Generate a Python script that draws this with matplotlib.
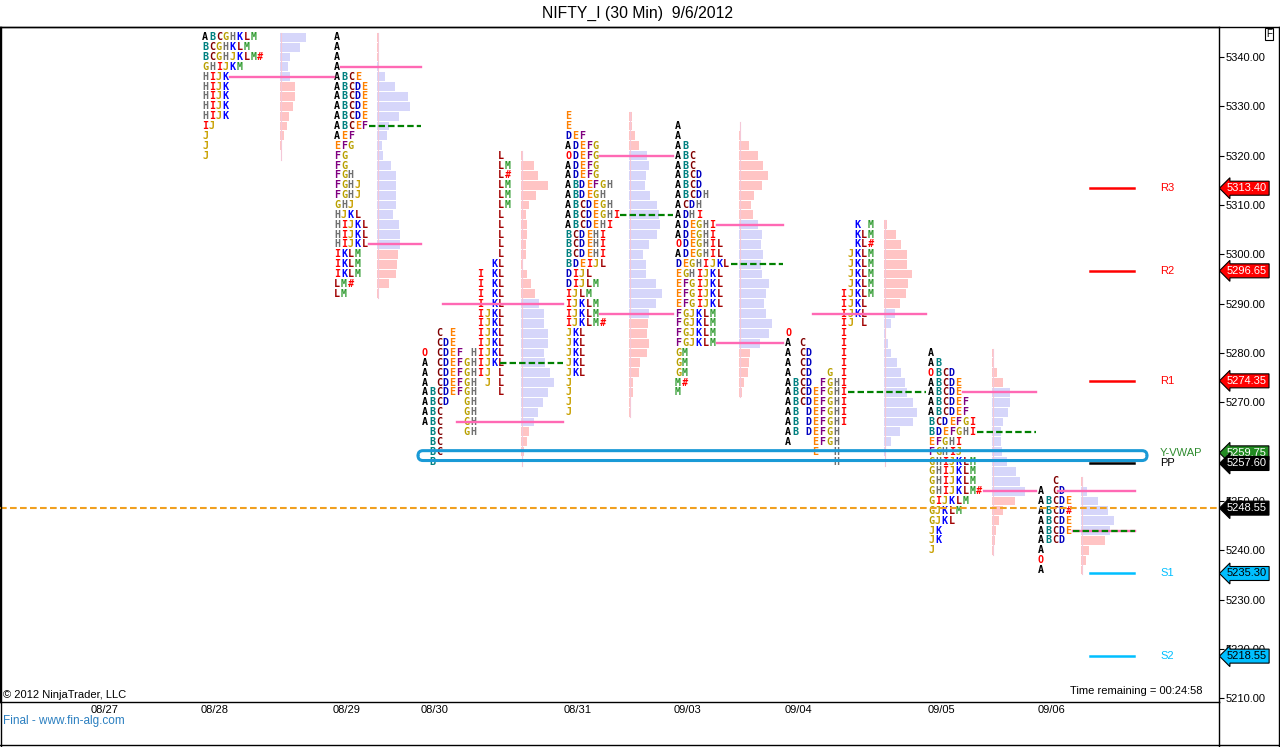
import matplotlib.pyplot as plt
from matplotlib.lines import Line2D
from matplotlib.patches import FancyBboxPatch

W, H = 1280, 747  # output size in pixels

title = "NIFTY_I (30 Min)  9/6/2012"
dates = ["08/27", "08/28", "08/29", "08/30", "08/31", "09/03", "09/04", "09/05", "09/06"]

# TPO rows of each session, top row first, one row every 2 points
tpo_0828 = ["ABCGHKLM", "BCGHKLM", "BCGHJKLM#", "GHIJKM", "HIJK", "HIJK", "HIJK",
            "HIJK", "HIJK", "IJ", "J", "J", "J"]
tpo_0829 = ["A", "A", "A", "A", "ABCE", "ABCDE", "ABCDE", "ABCDE", "ABCDE", "ABCEF",
            "AEF", "EFG", "FG", "FG", "FGH", "FGHJ", "FGHJ", "GHJ", "HJKL", "HIJKL",
            "HIJKL", "HIJKL", "IKLM", "IKLM", "IKLM", "LM#", "LM"]
tpo_0830 = ["           L", "           LM", "           L#", "           LM",
            "           LM", "           LM", "           L", "           L",
            "           L", "           L", "           L", "          KL",
            "        I KL", "        I KL", "        I KL", "        I KL",
            "        IJKL", "        IJKL", "  C E   IJKL", "  CDE   IJKL",
            "O CDEF HIJKL", "A CDEFGHIJKL", "A CDEFGHIJ L", "A CDEFGH J L",
            "ABCDEFGH   L", "ABCD  GH", "ABC   GH", "ABC   GH", " BC   GH",
            " BC", " BC", " B"]
tpo_0831 = ["E", "E", "DEF", "ADEFG", "ODEFG", "ADEFG", "ADEFG", "ABDEFGH", "ABDEGH",
            "ABCDEGH", "ABCDEGHI", "ABCDEHI", "BCDEHI", "BCDEHI", "BCDEHI", "BDEIJL",
            "DIJL", "DIJLM", "IJLM", "IJKLM", "IJKLM", "IJKLM#", "JKL", "JKL", "JKL",
            "JKL", "JKL", "J", "J", "J", "J"]
tpo_0903 = ["A", "A", "AB", "ABC", "ABC", "ABCD", "ABCD", "ABCDH", "ACDH", "ADHI",
            "ADEGHI", "ADEGHI", "ODEGHIL", "ADEGHIL", "DEGHIJKL", "EGHIJKL", "EFGIJKL",
            "EFGIJKL", "EFGIJKL", "FGJKLM", "FGJKLM", "FGJKLM", "FGJKLM", "GM", "GM",
            "GM", "M#", "M"]
tpo_0904 = ["          K M", "          KLM", "          KL#", "         JKLM",
            "         JKLM", "         JKLM", "         JKLM", "        IJKLM",
            "        IJKL", "        IJKL", "        IJ L", "O       I",
            "A C     I", "A CD    I", "A CD    I", "A CD  G I", "ABCD FGHI",
            "ABCDEFGHI", "ABCDEFGHI", "AB DEFGHI", "AB DEFGHI", "AB DEFGH",
            "A   EFGH", "    E  H", "       H"]
tpo_0905 = ["A", "AB", "OBCD", "ABCDE", "ABCDE", "ABCDEF", "ABCDEF", "BCDEFGI",
            "BDEFGHI", "EFGHI", "FGHIJ", "GHIJKLM", "GHIJKLM", "GHIJKLM",
            "GHIJKLM#", "GIJKLM", "GJKLM", "GJKL", "JK", "JK", "J"]
tpo_0906 = ["  C", "A CD", "ABCDE", "ABCD#", "ABCDE", "ABCDE", "ABCD", "A", "O", "A"]

# volume histogram per row (same order as the TPO rows)
vol_0828 = [26, 20, 10, 8, 10, 15, 15, 13, 9, 7, 4, 1, 0]
vol_0829 = [1, 1, 2, 2, 8, 18, 31, 33, 22, 12, 10, 5, 6, 14, 19, 19, 19, 19, 16, 22,
            23, 23, 21, 20, 19, 12, 2]
vol_0830 = [1, 13, 17, 27, 15, 8, 5, 6, 6, 5, 5, 2, 6, 10, 14, 18, 23, 23, 27, 27,
            23, 24, 29, 33, 27, 22, 17, 13, 8, 6, 3, 0]
vol_0831 = [3, 3, 6, 10, 18, 20, 17, 16, 21, 28, 30, 31, 28, 20, 14, 17, 17, 27, 33,
            27, 20, 19, 18, 20, 18, 11, 10, 4, 4, 2, 1]
vol_0903 = [0, 2, 10, 19, 24, 29, 23, 15, 12, 14, 19, 23, 22, 24, 22, 23, 30, 27, 25,
            27, 33, 30, 21, 11, 10, 9, 5, 3]
vol_0904 = [3, 12, 17, 23, 23, 28, 24, 22, 16, 11, 7, 2, 4, 7, 13, 17, 21, 23, 29, 33,
            29, 16, 7, 2, 0]
vol_0905 = [1, 1, 5, 11, 18, 18, 16, 11, 9, 9, 10, 15, 24, 28, 33, 23, 11, 7, 4, 3, 1]
vol_0906 = [1, 6, 17, 27, 33, 29, 24, 8, 5, 2]

# (date, top row price, value area high, value area low)
sessions = [
    ("08/28", 5344, 5344, 5336),
    ("08/29", 5344, 5338, 5302),
    ("08/30", 5320, 5290, 5266),
    ("08/31", 5328, 5320, 5288),
    ("09/03", 5326, 5306, 5282),
    ("09/04", 5306, 5288, 5258),
    ("09/05", 5280, 5272, 5252),
    ("09/06", 5254, 5252, 5244),
]
tpo_rows = [tpo_0828, tpo_0829, tpo_0830, tpo_0831, tpo_0903, tpo_0904, tpo_0905, tpo_0906]
volumes = [vol_0828, vol_0829, vol_0830, vol_0831, vol_0903, vol_0904, vol_0905, vol_0906]

# volume POC levels (pink) and TPO POC levels (green dashed)
vpoc_levels = [5336, 5338, 5302, 5290, 5266, 5320, 5288, 5306, 5282, 5288, 5272, 5252,
               5252, 5244]
tpoc_levels = [5326, 5278, 5308, 5298, 5272, 5264, 5244]

pivot_names = ["R3", "R2", "R1", "Y-VWAP", "PP", "S1", "S2"]
pivot_values = [5313.40, 5296.65, 5274.35, 5259.75, 5257.60, 5235.30, 5218.55]
last_price = 5248.55
time_left = "00:24:58"

# ---- layout (x axis runs in screen pixels) ----
date_x = [105, 215, 347, 435, 578, 688, 798, 941, 1051]
letter_x = [202, 334, 422, 565, 675, 785, 928, 1038]
bar_x = [280, 377, 521, 629, 739, 884, 992, 1081]
vpoc_x = [(230, 334), (341, 421), (369, 421), (443, 563), (457, 563), (600, 673),
          (600, 673), (717, 783), (717, 783), (813, 926), (963, 1036), (984, 1036),
          (1058, 1135), (1073, 1135)]
tpoc_x = [(369, 421), (500, 563), (620, 673), (731, 783), (848, 926), (977, 1036),
          (1073, 1135)]
pitch = 6.9

letter_colors = {
    "A": "#000000", "B": "#008080", "C": "#800000", "D": "#0000c0", "E": "#ff8000",
    "F": "#800080", "G": "#b8a000", "H": "#707070", "I": "#ff0000", "J": "#c8a000",
    "K": "#0000ff", "L": "#a00000", "M": "#2e9a2e", "O": "#ff0000", "#": "#ff0000",
}
pivot_colors = ["#ff0000", "#ff0000", "#ff0000", "#2e8b2e", "#000000", "#00bfff", "#00bfff"]
tag_face = ["#ff0000", "#ff0000", "#ff0000", "#228b22", "#000000", "#00bfff", "#00bfff"]
tag_text = ["white", "white", "white", "white", "white", "black", "black"]

plt.rcParams['font.family'] = ['Liberation Sans', 'DejaVu Sans']

fig = plt.figure(figsize=(W / 100, H / 100), dpi=100)
top_px, bottom_px, right_px = 27, 702, 1219
ax = fig.add_axes([0, 1 - bottom_px / H, right_px / W, (bottom_px - top_px) / H])
ax.set_xlim(0, right_px)
ax.set_ylim(5209.25, 5346.08)

for s, (day, top, va_hi, va_lo) in enumerate(sessions):
    rows = tpo_rows[s]
    prices = [top - 2 * i for i in range(len(rows))]
    for price, row in zip(prices, rows):
        for col, ch in enumerate(row):
            if ch == " ":
                continue
            ax.text(letter_x[s] + col * pitch, price, ch, color=letter_colors[ch],
                    family="DejaVu Sans Mono", weight="bold", fontsize=7.2,
                    ha="left", va="center", zorder=3)
    cols = ["#d6d6fa" if va_lo <= p <= va_hi else "#ffc4c4" for p in prices]
    ax.barh(prices, volumes[s], left=bar_x[s], height=1.8, color=cols, zorder=2)
    # thin left edge of the histogram
    ax.plot([bar_x[s] + 0.5] * 2, [prices[-1] - 0.9, prices[0] + 0.9],
            color="#f4c8d8", lw=0.8, zorder=2)

for lvl, (x0, x1) in zip(vpoc_levels, vpoc_x):
    ax.plot([x0, x1], [lvl, lvl], color="#ff69b4", lw=1.7, zorder=4)
for lvl, (x0, x1) in zip(tpoc_levels, tpoc_x):
    ax.plot([x0, x1], [lvl, lvl], color="#008000", lw=1.6, dashes=(2.9, 1.4), zorder=5)

ax.axhline(last_price, color="#f0a020", lw=1.5, dashes=(3.2, 1.6), zorder=5)

# highlighted zone around yesterday's VWAP and the pivot
zone = FancyBboxPatch((418, 5258.2), 1147 - 418, 2.0,
                      boxstyle="round,pad=0,rounding_size=5",
                      mutation_aspect=1 / 4.93, fc="none", ec="#1a9ad6", lw=2.2,
                      zorder=6)
ax.add_patch(zone)

for name, val, c in zip(pivot_names, pivot_values, pivot_colors):
    if name != "Y-VWAP":
        ax.plot([1090, 1134], [val, val], color=c, lw=1.8, zorder=5)
    ax.text(1160, val, name, color=c, fontsize=8, ha="left", va="center")

# price tags on the right axis
tag_vals = pivot_values + [last_price]
tag_faces = tag_face + ["#000000"]
tag_texts = tag_text + ["white"]
for val, fc, tc in zip(tag_vals, tag_faces, tag_texts):
    ax.text(1227, val, "%.2f" % val, color=tc, fontsize=8, ha="left", va="center",
            clip_on=False, zorder=10,
            bbox=dict(boxstyle="larrow,pad=0.18", fc=fc, ec="black", lw=0.8))

ax.set_yticks(range(5210, 5341, 10))
ax.set_yticklabels(["%.2f" % v for v in range(5210, 5341, 10)])
ax.yaxis.tick_right()
ax.tick_params(axis="y", direction="out", length=3.6, width=0.8, pad=1.5, labelsize=8)
ax.set_xticks(date_x)
ax.set_xticklabels(dates)
ax.tick_params(axis="x", length=0, pad=2.5, labelsize=8)
for sp in ax.spines.values():
    sp.set_linewidth(1.0)

ax.text(3, 5210.6, "\u00a9 2012 NinjaTrader, LLC", fontsize=8, ha="left", va="center")
ax.text(1203, 5211.5, "Time remaining = " + time_left, fontsize=8, ha="right", va="center")


def px(x, y):
    return x / W, 1 - y / H


fig.text(*px(637, 13), title, fontsize=11.3, ha="center", va="center")
fig.text(*px(3, 721), "Final - www.fin-alg.com", fontsize=8.5, color="#2a7fc0",
         ha="left", va="center")
fig.text(*px(1269, 34), "F", fontsize=7, ha="center", va="center",
         bbox=dict(boxstyle="square,pad=0.15", fc="white", ec="black", lw=0.8))

for (xa, ya), (xb, yb) in [((0, 27), (W, 27)), ((W - 1, 27), (W - 1, H)),
                           ((0, H - 2), (W, H - 2)), ((right_px, 702), (right_px, H)),
                           ((0.5, 27), (0.5, H))]:
    fig.add_artist(Line2D([px(xa, ya)[0], px(xb, yb)[0]], [px(xa, ya)[1], px(xb, yb)[1]],
                          color="black", lw=1.0))

fig.savefig("out.png", dpi=100)
